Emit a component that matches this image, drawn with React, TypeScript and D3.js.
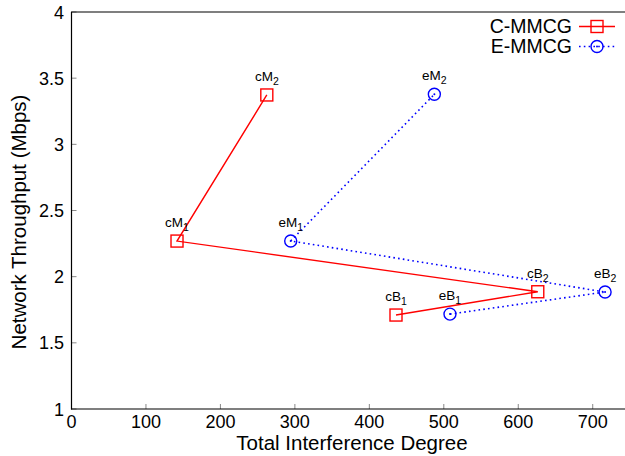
import React from "react";
import * as d3 from "d3";

const seriesNames = ["C-MMCG", "E-MMCG"];
const cLabels = ["cB1", "cB2", "cM1", "cM2"];
const cX = [435.8, 626.2, 141.7, 262.3];
const cY = [1.71, 1.886, 2.269, 3.373];
const eLabels = ["eB1", "eB2", "eM1", "eM2"];
const eX = [508.3, 716.6, 294.4, 487.3];
const eY = [1.717, 1.884, 2.27, 3.378];
const xTicks = [0, 100, 200, 300, 400, 500, 600, 700];
const yTicks = [1, 1.5, 2, 2.5, 3, 3.5, 4];

const W = 625, H = 456;
const FONT = "'Liberation Sans', Arial, Helvetica, sans-serif";

export default function App() {
  const x = d3.scaleLinear().domain([0, 742]).range([71.5, 624]);
  const y = d3.scaleLinear().domain([1, 4]).range([409, 12]);
  const line = d3.line<[number, number]>().x(d => x(d[0])).y(d => y(d[1]));
  const cPts: [number, number][] = cX.map((v, i) => [v, cY[i]]);
  const ePts: [number, number][] = eX.map((v, i) => [v, eY[i]]);
  const red = "#ff0000";
  const blue = "#0000ff";
  const sq = 12;
  const r = 6;

  const label = (t: string, px: number, py: number, key: string) => (
    <text key={key} x={px} y={py - 14} textAnchor="middle" fontSize={13.5} fontFamily={FONT} fill="#000">
      {t.slice(0, 2)}
      <tspan fontSize={10.5} dy={4}>{t.slice(2)}</tspan>
    </text>
  );

  return (
    <svg width={W} height={H} style={{ position: "absolute", left: 0, top: 0, background: "#fff" }}>
      {/* ticks */}
      {xTicks.map(t => (
        <line key={"xt" + t} x1={x(t)} x2={x(t)} y1={409} y2={404} stroke="#888" strokeWidth={1} />
      ))}
      {yTicks.map(t => (
        <line key={"yt" + t} x1={71.5} x2={76.5} y1={y(t)} y2={y(t)} stroke="#888" strokeWidth={1} />
      ))}
      {/* frame */}
      <line x1={71.5} x2={71.5} y1={12} y2={409.5} stroke="#000" strokeWidth={1.2} />
      <line x1={71} x2={625} y1={409} y2={409} stroke="#000" strokeWidth={1.2} />
      <line x1={71} x2={625} y1={12} y2={12} stroke="#000" strokeWidth={1.2} />
      {/* tick labels */}
      {xTicks.map(t => (
        <text key={"xl" + t} x={x(t)} y={428} textAnchor="middle" fontSize={18} fontFamily={FONT} fill="#000">{t}</text>
      ))}
      {yTicks.map(t => (
        <text key={"yl" + t} x={64} y={y(t) + 6.5} textAnchor="end" fontSize={18} fontFamily={FONT} fill="#000">{t}</text>
      ))}
      {/* axis titles */}
      <text x={352} y={450} textAnchor="middle" fontSize={20.5} fontFamily={FONT} fill="#000">Total Interference Degree</text>
      <text transform={`translate(26,${222}) rotate(-90)`} textAnchor="middle" fontSize={20.5} fontFamily={FONT} fill="#000">Network Throughput (Mbps)</text>
      {/* series lines */}
      <path d={line(cPts) || ""} fill="none" stroke={red} strokeWidth={1.4} />
      <path d={line(ePts) || ""} fill="none" stroke={blue} strokeWidth={1.6} strokeDasharray="1.6,3.2" />
      {/* markers */}
      {cPts.map((p, i) => (
        <rect key={"cm" + i} x={x(p[0]) - sq / 2} y={y(p[1]) - sq / 2} width={sq} height={sq} fill="none" stroke={red} strokeWidth={1.4} />
      ))}
      {ePts.map((p, i) => (
        <g key={"em" + i}>
          <circle cx={x(p[0])} cy={y(p[1])} r={r} fill="none" stroke={blue} strokeWidth={1.4} />
          <circle cx={x(p[0])} cy={y(p[1])} r={1} fill={blue} />
        </g>
      ))}
      {/* point labels */}
      {cPts.map((p, i) => label(cLabels[i], x(p[0]), y(p[1]), "cl" + i))}
      {ePts.map((p, i) => label(eLabels[i], x(p[0]), y(p[1]), "el" + i))}
      {/* legend */}
      <text x={572} y={32.5} textAnchor="end" fontSize={19.5} fontFamily={FONT} fill="#000">{seriesNames[0]}</text>
      <line x1={579} x2={615} y1={26.5} y2={26.5} stroke={red} strokeWidth={1.4} />
      <rect x={597 - sq / 2} y={26.5 - sq / 2} width={sq} height={sq} fill="none" stroke={red} strokeWidth={1.4} />
      <text x={572} y={52.5} textAnchor="end" fontSize={19.5} fontFamily={FONT} fill="#000">{seriesNames[1]}</text>
      <line x1={579} x2={615} y1={46.5} y2={46.5} stroke={blue} strokeWidth={1.6} strokeDasharray="1.6,3.2" />
      <circle cx={597} cy={46.5} r={r} fill="none" stroke={blue} strokeWidth={1.4} />
      <circle cx={597} cy={46.5} r={1} fill={blue} />
    </svg>
  );
}
